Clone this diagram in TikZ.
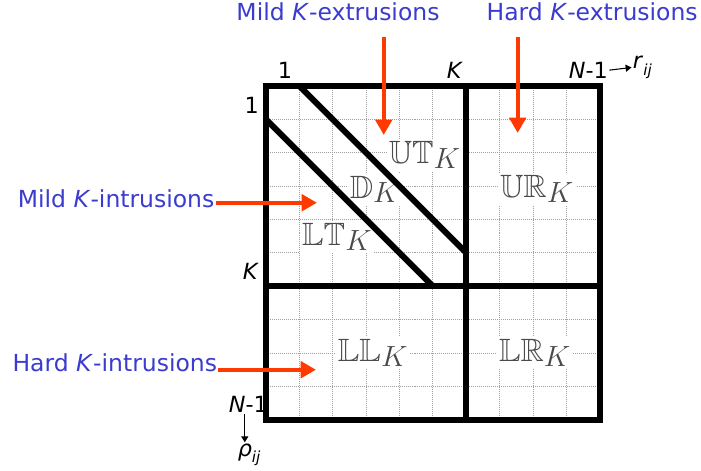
\documentclass[tikz,border=0pt]{standalone}
\usepackage{fontspec}
\usepackage{amssymb}
\setsansfont{DejaVu Sans}
\usetikzlibrary{arrows.meta}

\definecolor{NoteColor}{HTML}{3B3BD0}
\definecolor{PointerColor}{HTML}{FF3A00}
\definecolor{GridColor}{HTML}{A0A0A0}
\definecolor{BlockColor}{HTML}{4A4A4A}

% block label: double-struck letters with a large K index
\newcommand{\blk}[1]{$\mathbb{#1}$\raisebox{-0.35ex}{\fontsize{23}{23}\selectfont$K$}}
\newcommand{\idx}[1]{\textit{#1}\raisebox{-0.55ex}{\fontsize{13}{13}\selectfont\textit{ij}}}

\tikzset{
  note/.style={font=\sffamily\fontsize{20}{23}\selectfont, text=NoteColor, inner sep=1pt},
  pointer/.style={draw=PointerColor, line width=3.2pt, -{Triangle[length=13pt,width=14pt]}},
  index/.style={font=\sffamily\fontsize{19}{22}\selectfont, inner sep=1pt},
  block/.style={font=\fontsize{27.5}{30}\selectfont, text=BlockColor, fill=white, inner sep=2pt},
  gridline/.style={draw=GridColor, densely dotted, line width=0.7pt},
  border/.style={line width=5.2pt},
}

\begin{document}
\begin{tikzpicture}[x=1cm,y=-1cm]
  % ===== Parameters =====
  \def\nCells{10}
  \def\kCut{6}
  \useasboundingbox (-7.96,-2.57) rectangle (13.03,11.53);

  % ===== Grid =====
  \foreach \i in {1,...,9}{
    \draw[gridline] (\i,0) -- (\i,\nCells);
    \draw[gridline] (0,\i) -- (\nCells,\i);
  }

  % ===== Blocks =====
  \node[block] (ut) at (4.75,2.07) {\blk{UT}};
  \node[block] (dk) at (3.26,3.1)  {\blk{D}};
  \node[block] (lt) at (2.13,4.52) {\blk{LT}};
  \node[block] (ur) at (8.11,3.08) {\blk{UR}};
  \node[block] (ll) at (3.2,8.0)   {\blk{LL}};
  \node[block] (lr) at (8.05,8.0)  {\blk{LR}};

  % ===== Indices =====
  \node[index] (top1) at (0.57,-0.47) {1};
  \node[index] (topK) at (5.66,-0.47) {\textit{K}};
  \node[index] (topN) at (9.66,-0.47) {\textit{N}-1};
  \node[index,anchor=west] (rij) at (10.95,-0.55) {\idx{r}};
  \draw[-{Triangle[length=5pt,width=6pt]}, line width=0.9pt] (topN.east) -- (rij.west);

  \node[index] (left1) at (-0.42,0.57) {1};
  \node[index] (leftK) at (-0.45,5.57) {\textit{K}};
  \node[index,anchor=east] (leftN) at (0.1,9.55) {\textit{N}-1};
  \node[index] (rho) at (-0.5,11.05) {\idx{ρ}};
  \draw[-{Triangle[length=5pt,width=6pt]}, line width=0.9pt]
       ([xshift=-3pt]leftN.south) -- ([xshift=-3pt]leftN.south |- rho.north);

  % ===== Borders =====
  \draw[border] (0,0) rectangle (\nCells,\nCells);
  \draw[border] (\kCut,0) -- (\kCut,\nCells);
  \draw[border] (0,\kCut) -- (\nCells,\kCut);
  \draw[border] (1,0) -- (\kCut,\kCut-1);
  \draw[border] (0,1) -- (\kCut-1,\kCut);

  % ===== Annotations =====
  \node[note] (mildext) at (2.16,-2.22) {Mild \textit{K}-extrusions};
  \node[note] (hardext) at (9.77,-2.22) {Hard \textit{K}-extrusions};
  \node[note,anchor=east] (mildint) at (-1.5,3.38) {Mild \textit{K}-intrusions};
  \node[note,anchor=east] (hardint) at (-1.42,8.29) {Hard \textit{K}-intrusions};

  \coordinate (mildextTail) at (3.53,-1.47);
  \coordinate (mildextTip)  at (3.53,1.47);
  \coordinate (hardextTail) at (7.54,-1.47);
  \coordinate (hardextTip)  at (7.54,1.41);
  \coordinate (mildintTip)  at (1.53,3.5);
  \coordinate (hardintTip)  at (1.5,8.5);

  \draw[pointer] (mildextTail) -- (mildextTip);
  \draw[pointer] (hardextTail) -- (hardextTip);
  \draw[pointer] (mildint.east |- mildintTip) -- (mildintTip);
  \draw[pointer] (hardint.east |- hardintTip) -- (hardintTip);
\end{tikzpicture}
\end{document}
